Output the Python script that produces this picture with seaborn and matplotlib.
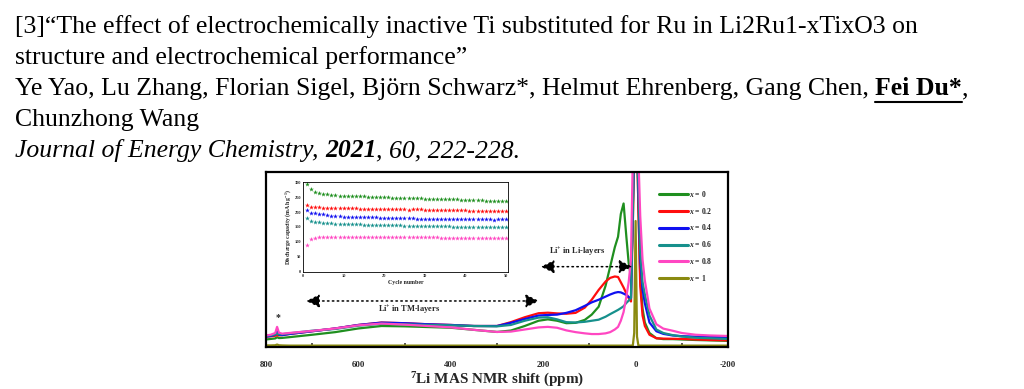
import matplotlib
matplotlib.use("Agg")
import matplotlib.pyplot as plt
import seaborn as sns
from matplotlib.lines import Line2D

# ---------------------------
# data: 7Li MAS NMR spectra (intensity, arbitrary units)
# ---------------------------
ppm = [800, 790, 780, 776, 772, 765, 750, 700, 650, 600, 550, 500, 450, 400, 350, 300,
       270, 240, 210, 190, 170, 150, 130, 110, 95, 80, 65, 55, 45, 38, 32, 26, 20, 15,
       10, 6, 3, 0, -3, -6, -10, -15, -20, -30, -45, -60, -80, -100, -130, -160, -200]

nmr_x0 = [4.3, 4.6, 4.9, 5.6, 5.1, 5.2, 5.6, 7.0, 8.5, 10.6, 12.0, 11.8, 11.4, 11.0, 9.8, 8.6,
          9.4, 12.0, 15.0, 15.8, 15.0, 13.6, 13.8, 15.5, 18.5, 23, 35, 46, 57, 63, 76, 82, 63, 48,
          40, 70, 120, 130, 120, 80, 40, 22, 14, 8, 5, 4.5, 4.5, 4.3, 4.0, 3.8, 3.5]
nmr_x02 = [5.9, 6.1, 6.4, 6.8, 6.6, 6.8, 7.4, 9.0, 10.6, 12.6, 14.0, 13.6, 13.0, 12.6, 12.0, 12.0,
           14.2, 17.0, 19.3, 19.6, 19.2, 19.0, 19.5, 22.5, 27, 32.6, 37.4, 39.5, 40.3, 40, 37, 34, 30.6, 28,
           26, 70, 120, 130, 120, 80, 35, 18, 12, 7, 5, 4.8, 4.7, 4.6, 4.3, 4.0, 3.8]
nmr_x04 = [5.9, 6.3, 7.0, 9.0, 7.0, 6.8, 7.4, 9.0, 10.6, 12.6, 13.9, 13.6, 13.0, 12.6, 12.0, 12.0,
           13.8, 16.0, 18.0, 18.3, 18.5, 19.5, 21.0, 23.5, 25.5, 27, 28.8, 30, 31, 31.4, 31.2, 30.5, 29.7, 28.5,
           28, 80, 120, 130, 120, 90, 50, 33, 25, 14, 9, 7.5, 6.6, 6.2, 5.9, 5.7, 5.6]
nmr_x06 = [6.4, 6.7, 7.2, 7.8, 7.3, 7.3, 7.8, 9.3, 10.3, 12.2, 13.3, 13.0, 12.6, 12.4, 12.0, 11.8,
           12.6, 15.0, 16.8, 17.0, 15.8, 14.2, 14.0, 14.4, 15.0, 15.6, 17.3, 18.8, 20.2, 21.2, 22.2, 23.3, 25.2, 26.5,
           28, 80, 120, 130, 120, 95, 55, 37, 30, 18, 10, 8, 6.8, 6.0, 5.3, 5.0, 4.6]
nmr_x08 = [6.6, 7.0, 8.0, 11.5, 8.2, 7.6, 8.0, 9.2, 10.6, 12.4, 13.4, 12.8, 12.0, 11.2, 9.8, 8.6,
           8.8, 10.0, 11.2, 11.5, 11.0, 9.5, 8.5, 7.8, 7.4, 7.4, 7.8, 8.5, 10, 11.5, 15, 20, 28.8, 37,
           50, 110, 125, 130, 125, 110, 75, 50, 38, 22, 13, 10.5, 9.3, 8.0, 7.0, 6.6, 6.3]
nmr_x1 = [0.9, 0.9, 1.0, 1.4, 1.0, 0.9, 0.8, 0.8, 0.8, 0.8, 0.8, 0.8, 0.8, 0.8, 0.8, 0.8,
          0.8, 0.8, 0.8, 0.8, 0.8, 0.8, 0.8, 0.8, 0.8, 0.8, 0.8, 0.8, 0.8, 0.8, 0.8, 0.8, 0.8, 0.8,
          0.8, 0.9, 8, 72, 6, 0.9, 0.8, 0.8, 0.8, 0.8, 0.8, 0.8, 0.8, 0.8, 0.8, 0.8, 0.8]

series_labels = ["$x$ = 0", "$x$ = 0.2", "$x$ = 0.4", "$x$ = 0.6", "$x$ = 0.8", "$x$ = 1"]
series_colors = ["#1f8f1f", "#ff0d0d", "#1010f0", "#16908c", "#ff47c2", "#8a8a10"]

# inset: discharge capacity vs cycle number
cycles = list(range(1, 51))
cap_x0 = [295, 277, 269, 265, 262, 260, 258, 257, 256, 255, 254, 253, 254, 253, 253, 252, 252, 251, 251, 250,
          250, 249, 249, 249, 248, 248, 248, 247, 247, 246, 246, 246, 245, 245, 244, 244, 243, 243, 242, 242,
          241, 241, 240, 240, 239, 239, 238, 238, 238, 237]
cap_x02 = [225, 217, 216, 216, 215, 215, 214, 214, 214, 213, 213, 213, 213, 212, 212, 212, 212, 212, 211, 211,
           211, 211, 211, 210, 210, 207, 209, 209, 209, 208, 208, 208, 208, 207, 207, 207, 207, 206, 206, 206,
           205, 205, 205, 205, 204, 204, 204, 203, 203, 203]
cap_x04 = [207, 197, 196, 194, 193, 190, 188, 187, 186, 185, 185, 184, 184, 183, 183, 182, 182, 182, 181, 181,
           181, 180, 180, 180, 179, 179, 179, 178, 178, 178, 177, 177, 177, 177, 176, 176, 176, 175, 176, 176,
           176, 175, 175, 175, 175, 175, 174, 175, 175, 175]
cap_x06 = [179, 169, 167, 165, 164, 163, 162, 161, 160, 159, 159, 158, 158, 158, 157, 157, 157, 156, 156, 156,
           155, 155, 155, 155, 154, 154, 154, 154, 153, 153, 153, 153, 152, 152, 152, 152, 151, 151, 151, 151,
           150, 150, 150, 150, 150, 149, 149, 150, 150, 150]
cap_x08 = [90, 108, 112, 114, 115, 116, 116, 116, 117, 117, 117, 116, 116, 116, 117, 116, 116, 117, 116, 116,
           116, 115, 115, 115, 115, 115, 114, 114, 114, 114, 114, 114, 114, 113, 113, 113, 113, 113, 113, 113,
           112, 112, 112, 112, 112, 111, 111, 111, 111, 111]

# citation text: (text, style, trailing space?)
cite_lines = [
    [("[3]\u201cThe effect of electrochemically inactive Ti substituted for Ru in Li2Ru1-xTixO3 on", {}, False)],
    [("structure and electrochemical performance\u201d", {}, False)],
    [("Ye Yao, Lu Zhang, Florian Sigel, Bj\u00f6rn Schwarz*, Helmut Ehrenberg, Gang Chen,", {}, True),
     ("Fei Du*", {"weight": "bold", "underline": True}, False),
     (",", {}, False)],
    [("Chunzhong Wang", {}, False)],
    [("Journal of Energy Chemistry,", {"style": "italic"}, True),
     ("2021", {"style": "italic", "weight": "bold"}, False),
     (", 60, 222-228.", {"style": "italic"}, False)],
]

# ---------------------------
# style
# ---------------------------
sns.set_theme(style="white")
plt.rcParams["font.family"] = ["Liberation Serif", "DejaVu Serif"]
plt.rcParams["axes.unicode_minus"] = False
plt.rcParams["mathtext.fontset"] = "custom"
plt.rcParams["mathtext.rm"] = "Liberation Serif:bold"
plt.rcParams["mathtext.it"] = "Liberation Serif:italic:bold"
plt.rcParams["mathtext.bf"] = "Liberation Serif:bold"

W, H = 1024, 389
FS = 18.5
fig = plt.figure(figsize=(W / 100, H / 100), dpi=100)
fig.patch.set_facecolor("white")

# citation text, piece by piece
renderer = fig.canvas.get_renderer()


def text_width(s, **kw):
    t = fig.text(0, 0, s, fontsize=FS, **kw)
    w = t.get_window_extent(renderer).width
    t.remove()
    return w


space_w = text_width("a a") - text_width("aa")
for i, pieces in enumerate(cite_lines):
    x = 15
    y = 33 + 31 * i
    for s, kw, trailing in pieces:
        kw = dict(kw)
        ul = kw.pop("underline", False)
        t = fig.text(x / W, 1 - y / H, s, fontsize=FS, ha="left", va="baseline",
                     color="black", **kw)
        w = t.get_window_extent(renderer).width
        if ul:
            fig.add_artist(Line2D([x / W, (x + w) / W], [1 - (y + 7) / H] * 2,
                                  color="black", lw=1.5, transform=fig.transFigure))
        x += w + (space_w if trailing else 0)

# ---------------------------
# main NMR plot
# ---------------------------
ax = fig.add_axes([266 / W, 1 - 347 / H, 462 / W, 175 / H])
all_nmr = [nmr_x0, nmr_x02, nmr_x04, nmr_x06, nmr_x08, nmr_x1]
for vals, lab, col in zip(all_nmr, series_labels, series_colors):
    sns.lineplot(x=ppm, y=vals, color=col, lw=1.6, label=lab, ax=ax, sort=False)

ax.set_xlim(800, -200)
ax.set_ylim(0, 100)
ax.set_yticks([])
ax.set_xticks([800, 600, 400, 200, 0, -200])
ax.set_xticks([700, 500, 300, 100, -100], minor=True)
ax.tick_params(axis="x", which="major", direction="in", length=4, width=1.3, labelsize=6.3, pad=10)
ax.tick_params(axis="x", which="minor", direction="in", length=3, width=1.1, bottom=True)
for lbl in ax.get_xticklabels():
    lbl.set_fontweight("bold")
ax.set_xlabel(r"$^{7}$Li MAS NMR shift (ppm)", fontsize=10.9, fontweight="bold", labelpad=1.5)
ax.set_ylabel("")
for sp in ax.spines.values():
    sp.set_linewidth(1.6)
    sp.set_color("black")

leg = ax.legend(loc="upper left", bbox_to_anchor=(0.85, 0.905), frameon=False,
                prop={"size": 5.5, "weight": "bold"}, handlelength=3.9, handletextpad=0.1,
                labelspacing=0.9, borderaxespad=0, borderpad=0)
for h in leg.get_lines():
    h.set_linewidth(2.2)

# annotations
arrow_kw = dict(arrowstyle="<|-|>,head_length=0.8,head_width=0.4", color="black",
                lw=1.1, linestyle=(0, (1, 2.2)), mutation_scale=10, shrinkA=0, shrinkB=0)
ax.annotate("", xy=(209, 26.3), xytext=(713, 26.3), arrowprops=arrow_kw)
ax.text(491, 21, r"Li$^{+}$ in TM-layers", fontsize=6, fontweight="bold", ha="center", va="center")
ax.annotate("", xy=(7, 45.9), xytext=(205, 45.9), arrowprops=arrow_kw)
ax.text(126, 54, r"Li$^{+}$ in Li-layers", fontsize=6, fontweight="bold", ha="center", va="center")
ax.text(775, 17, "*", fontsize=7, fontweight="bold", ha="center", va="center")

# ---------------------------
# inset: cycling
# ---------------------------
ins = fig.add_axes([303 / W, 1 - 272 / H, 205 / W, 90 / H])
all_cap = [cap_x0, cap_x02, cap_x04, cap_x06, cap_x08]
for vals, col in zip(all_cap, series_colors[:5]):
    sns.scatterplot(x=cycles, y=vals, color=col, marker="*", s=13, linewidth=0, ax=ins)
ins.set_xlim(0, 50.5)
ins.set_ylim(-3, 302)
ins.set_xticks([0, 10, 20, 30, 40, 50])
ins.set_yticks([0, 50, 100, 150, 200, 250, 300])
ins.tick_params(direction="in", length=1.5, width=0.5, labelsize=3.2, pad=1.5)
for lbl in ins.get_xticklabels() + ins.get_yticklabels():
    lbl.set_fontweight("bold")
ins.set_xlabel("Cycle number", fontsize=4.2, fontweight="bold", labelpad=1.5)
ins.set_ylabel(r"Discharge capacity (mAh g$^{-1}$)", fontsize=4.2, fontweight="bold", labelpad=1)
for sp in ins.spines.values():
    sp.set_linewidth(0.6)
    sp.set_color("black")

fig.savefig("out.png", dpi=100)
